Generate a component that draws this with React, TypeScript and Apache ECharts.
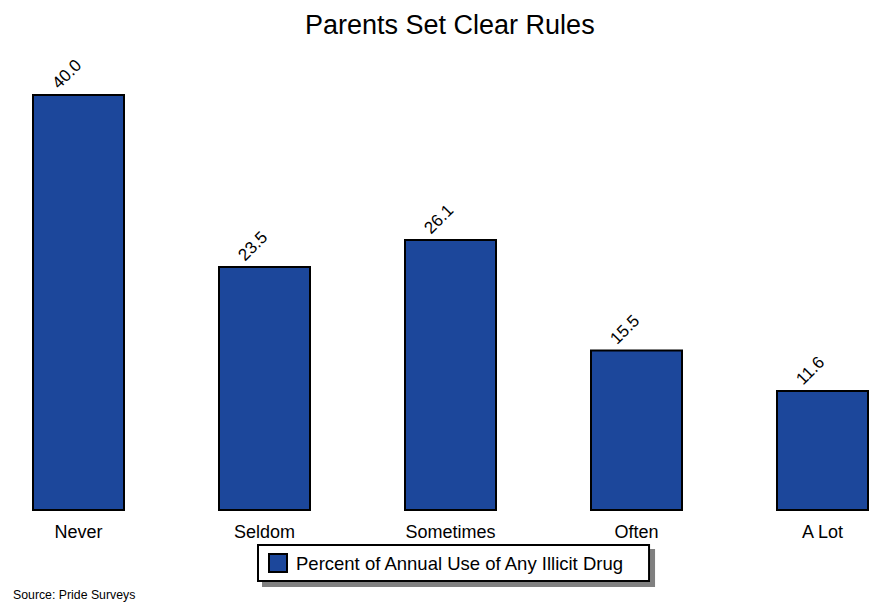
import React, { useEffect, useRef } from "react";
import * as echarts from "echarts";

const categories = ["Never", "Seldom", "Sometimes", "Often", "A Lot"];
const values = [40.0, 23.5, 26.1, 15.5, 11.6];
const seriesName = "Percent of Annual Use of Any Illicit Drug";
const titleText = "Parents Set Clear Rules";
const sourceText = "Source: Pride Surveys";

const SHIFT = 20;

export default function App() {
  const ref = useRef<HTMLDivElement>(null);
  useEffect(() => {
    const chart = echarts.init(ref.current!, null, { renderer: "svg" });
    const font = "Liberation Sans, Arial, Helvetica, sans-serif";
    chart.setOption({
      animation: false,
      backgroundColor: "#ffffff",
      textStyle: { fontFamily: font },
      title: {
        text: titleText,
        left: 305 + SHIFT - 5,
        top: 6,
        textStyle: { fontSize: 27, fontWeight: "normal", color: "#000", fontFamily: font },
      },
      graphic: [
        {
          type: "text",
          left: 13 + SHIFT,
          top: 589,
          style: { text: sourceText, fill: "#000", font: `12.3px ${font}` },
        },
      ],
      legend: {
        data: [seriesName],
        left: 258 + SHIFT,
        top: 545,
        padding: [8, 24, 8, 10],
        backgroundColor: "#fff",
        borderColor: "#000",
        borderWidth: 2,
        borderRadius: 0,
        shadowColor: "#808080",
        shadowOffsetX: 5,
        shadowOffsetY: 5,
        shadowBlur: 0,
        itemWidth: 18,
        itemHeight: 18,
        itemGap: 10,
        icon: "rect",
        textStyle: { fontSize: 18.5, color: "#000", fontFamily: font, padding: [0, 0, 0, 4] },
      },
      grid: { left: SHIFT - 14.5, width: 930, top: 94, height: 417, containLabel: false },
      xAxis: {
        type: "category",
        data: categories,
        axisLine: { show: false },
        axisTick: { show: false },
        axisLabel: { fontSize: 18, color: "#000", margin: 12, fontFamily: font },
      },
      yAxis: {
        type: "value",
        min: 0,
        max: 40,
        show: false,
        splitLine: { show: false },
      },
      series: [
        {
          name: seriesName,
          type: "bar",
          data: values,
          barWidth: 93,
          itemStyle: { color: "#1C479B", borderColor: "#000", borderWidth: 2 },
          label: {
            show: true,
            position: "top",
            rotate: 45,
            align: "left",
            verticalAlign: "middle",
            distance: 6,
            offset: [-15, -18],
            fontSize: 17,
            color: "#000",
            fontFamily: font,
            formatter: (p: any) => Number(p.value).toFixed(1),
          },
        },
      ],
    });
    return () => chart.dispose();
  }, []);
  return (
    <div
      ref={ref}
      style={{ position: "fixed", left: -SHIFT, top: 0, width: 960, height: 605 }}
    />
  );
}
